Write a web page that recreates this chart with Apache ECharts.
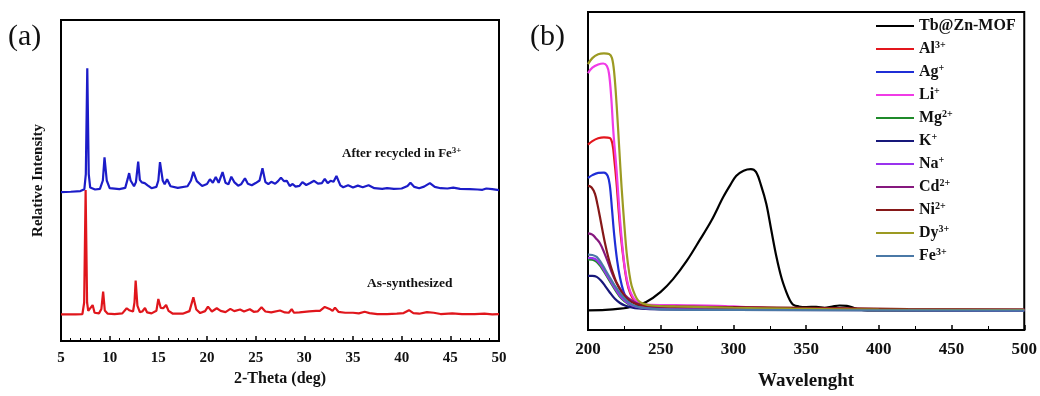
<!DOCTYPE html>
<html>
<head>
<meta charset="utf-8">
<script src="https://cdn.jsdelivr.net/npm/echarts@6/dist/echarts.min.js"></script>
<style>
html,body{margin:0;padding:0;background:#fff;}
#chart{width:1040px;height:396px;}
</style>
</head>
<body>
<div id="chart"></div>
<script>
// ---------- Data (a): XRD patterns, [2-theta, relative intensity (offset)] ----------
const xrdRecycled = [[5,46.4],[6,46.5],[7,46.7],[7.4,47.3],[7.55,52],[7.7,85],[7.85,52],[8.0,47.8],[8.5,47.2],[9.0,47.4],[9.3,50],[9.47,57.2],[9.7,50],[10.0,47.6],[11.0,47.3],[11.6,47.7],[11.85,50.5],[12.0,52.3],[12.15,50],[12.3,50.2],[12.5,48.2],[12.7,49.5],[12.93,55.9],[13.1,50.2],[13.3,49.4],[13.6,49.2],[13.9,48.5],[14.3,47.6],[14.8,48],[15.0,50],[15.17,55.7],[15.45,50],[15.65,48.8],[15.9,50.4],[16.25,48.2],[17.0,47.7],[18.0,48.2],[18.35,50],[18.6,52.7],[18.95,49.8],[19.5,48.3],[20.0,48.9],[20.3,50.4],[20.6,49.3],[20.9,51.1],[21.2,49.3],[21.6,52.6],[21.9,49.3],[22.2,48.8],[22.5,51.2],[22.8,49.5],[23.2,48.4],[23.5,48.8],[23.9,50.7],[24.2,49],[24.6,48.5],[25.0,49.2],[25.4,50],[25.7,53.8],[26.0,49.5],[26.3,48.9],[26.6,49.6],[27.0,49],[27.3,49.8],[27.6,50.9],[27.9,49.8],[28.2,49.9],[28.5,48.3],[28.8,48.9],[29.1,48.1],[29.5,48.3],[29.8,49.5],[30.2,48.6],[30.6,49.2],[31.0,49.9],[31.4,49],[31.8,49.2],[32.1,50.5],[32.4,49.2],[32.7,49.9],[33.0,49.6],[33.3,51.4],[33.7,48.5],[34.0,47.9],[34.5,48.5],[35.0,47.8],[35.5,48.4],[36.0,47.9],[36.6,48.5],[37.2,47.6],[38.0,47.4],[38.5,47.6],[39.2,47.4],[40.0,47.5],[40.6,48.3],[40.9,49.3],[41.3,48],[41.8,47.6],[42.3,48.1],[42.9,49.2],[43.4,48],[44.0,47.6],[44.7,47.5],[45.3,47.8],[46,47.4],[47,47.3],[47.8,47.2],[48.3,47.1],[48.7,47.5],[49.3,47.3],[50,47.0]];

const xrdAsSynth = [[5,8.3],[6.5,8.3],[7.2,8.4],[7.38,12],[7.53,47],[7.68,12],[7.8,9.4],[8.0,9.2],[8.25,11.2],[8.45,8.8],[8.9,8.6],[9.15,10],[9.33,15.4],[9.5,9.5],[9.8,8.5],[10.5,8.4],[11.3,8.6],[11.75,10.2],[12.0,9.6],[12.2,9.8],[12.4,9.2],[12.55,12],[12.67,18.8],[12.85,11],[13.1,9.0],[13.35,9.2],[13.63,10.3],[13.85,8.9],[14.3,8.6],[14.8,9.4],[15.0,13.1],[15.25,10.3],[15.5,10.2],[15.8,11.2],[16.05,9.4],[16.5,8.5],[17.5,8.5],[18.2,9.3],[18.6,13.6],[18.9,9.8],[19.3,8.7],[19.8,9.3],[20.1,10.7],[20.5,9.2],[21.0,10.2],[21.4,9.4],[21.9,9.0],[22.4,10.0],[22.8,9.3],[23.4,9.8],[23.8,9.2],[24.4,9.9],[24.8,9.1],[25.2,9.2],[25.6,10.5],[26.0,9.2],[26.6,8.9],[27.5,9.5],[28.0,8.9],[28.4,8.8],[28.7,9.9],[28.95,8.8],[29.5,8.9],[30.5,9.2],[31.2,9.4],[31.6,9.4],[32.1,10.6],[32.6,10.0],[32.9,9.4],[33.15,10.4],[33.5,9.1],[34.2,8.8],[35.0,8.8],[35.6,8.6],[36.2,9.1],[36.7,8.7],[37.5,8.4],[38.5,8.4],[39.5,8.5],[40.2,8.7],[40.75,9.6],[41.2,8.7],[41.8,8.5],[42.6,9.0],[43.3,8.8],[44.0,8.4],[45.2,8.6],[46.2,8.4],[47.5,8.4],[48.5,8.5],[49.3,8.3],[50,8.4]];

const xrdNames = ['After recycled in Fe3+', 'As-synthesized'];
const xrdTicks = [5, 10, 15, 20, 25, 30, 35, 40, 45, 50];

// ---------- Data (b): absorption spectra, [wavelength, intensity] ----------
const uvNames = ['Tb@Zn-MOF','Al3+','Ag+','Li+','Mg2+','K+','Na+','Cd2+','Ni2+','Dy3+','Fe3+'];
const uvTb = [[200,6.2],[212,6.3],[222,6.7],[231,7.4],[240,8.8],[250,12.0],[258.5,16.0],[268,21.8],[277,28.4],[285,34.5],[293,41.8],[298,45.7],[302,48.5],[307,50.1],[312,50.6],[315.5,49.7],[319,45.5],[322.6,39.7],[326,31.5],[329.5,23.2],[333,16.5],[336.4,11.9],[339,9.2],[341,8.0],[345,7.4],[350,7.2],[357,7.3],[362.7,7.0],[368,7.4],[373,7.7],[378,7.6],[383,6.9],[387,6.4],[392,6.2],[500,6.2]];
const uvAl = [[200,58.3],[203,59.4],[207,60.3],[211,60.6],[215,60.4],[216.8,58.5],[218,54],[219.5,47],[221,38],[222.5,30],[224.5,22],[226.6,15.5],[229,11.5],[232,9.2],[236,8.1],[245,7.6],[280,7.3],[330,6.9],[400,6.5],[500,6.3]];
const uvAg = [[200,47.8],[203,48.7],[207,49.4],[211,49.5],[213.5,48.5],[215,45.5],[216.5,38],[218,30],[220,22],[222,16.5],[224.5,12],[227.5,9.0],[231,7.6],[240,7.0],[300,6.7],[400,6.4],[500,6.3]];
const uvLi = [[200,80.8],[203,82.5],[207,83.5],[210.5,83.8],[213,83.0],[214.5,80.5],[216,73],[217.5,62],[219.7,50],[221.5,38],[223.5,27],[225.5,19],[228,13.5],[231,10.3],[234,8.9],[240,8.0],[260,7.8],[290,7.6],[305,7.3],[330,6.8],[380,6.5],[450,6.3],[500,6.3]];
const uvMg = [[200,22.2],[203,22.1],[206,21.4],[209,19.8],[212,17.6],[215.5,15.0],[219,12.4],[223,9.9],[228,8.1],[233,7.2],[240,6.8],[280,6.6],[350,6.4],[500,6.2]];
const uvK = [[200,17.0],[203,17.0],[206,16.7],[209,15.5],[211.7,13.9],[215,11.8],[218.5,9.8],[222,8.5],[225.4,7.7],[230,7.1],[234.5,6.8],[250,6.5],[300,6.3],[500,6.1]];
const uvNa = [[200,22.7],[203,22.6],[206,22.0],[209,20.3],[212,18.0],[215.5,15.4],[219,12.8],[223,10.2],[228,8.3],[233,7.3],[240,6.8],[270,6.6],[350,6.4],[500,6.2]];
const uvCd = [[200,30.4],[203,30.0],[205.5,28.8],[208.2,27.3],[211,24.5],[213.9,21.1],[217.5,16.8],[220.8,13.9],[225,11.2],[230,9.3],[236,8.0],[250,7.3],[320,6.9],[400,6.5],[500,6.3]];
const uvNi = [[200,45.4],[202.5,44.8],[204.8,42.8],[206.5,39.5],[208.2,35.6],[210,31.2],[211.7,27.3],[214,22.8],[216.3,19.1],[219.5,15],[223.1,11.9],[227.5,9.6],[232.3,8.3],[240,7.6],[280,7.3],[350,7.0],[420,6.6],[500,6.4]];
const uvDy = [[200,83.6],[203,85.5],[207,86.7],[211,87.0],[214.5,86.8],[216.5,85.5],[218,81],[219.7,70.7],[221.5,57],[223.1,44.9],[225,33],[226.6,24.2],[228.5,17.5],[230,13.9],[232.5,10.8],[234.5,9.3],[238,8.3],[243.7,7.7],[260,7.4],[300,7.0],[340,6.7],[400,6.4],[500,6.3]];
const uvFe = [[200,23.7],[203,23.6],[206,23.0],[209,21.2],[211.7,19.1],[215,16.5],[218.5,13.9],[223,11.0],[227.7,8.8],[232,7.6],[236.9,7.0],[250,6.5],[300,6.3],[500,6.1]];
const uvTicks = [200, 250, 300, 350, 400, 450, 500];

// ---------- Styles ----------
const uvData = [uvTb, uvAl, uvAg, uvLi, uvMg, uvK, uvNa, uvCd, uvNi, uvDy, uvFe];
const uvColors = ['#000000','#e3161d','#1f2ed6','#f03be6','#1f8a2a','#17187a','#9a33ee','#86187e','#861818','#9c9a22','#4a78a6'];
const SERIF = "'Liberation Serif','Times New Roman',serif";

function supFmt(name) {
  const m = name.match(/^(.*?)(\d*[+-])$/);
  if (!m) return '{b|' + name + '}';
  return '{b|' + m[1] + '}{s|' + m[2] + '}';
}

const chart = echarts.init(document.getElementById('chart'), null, {renderer: 'canvas'});

const series = [
  {name: xrdNames[0], type: 'line', xAxisIndex: 0, yAxisIndex: 0, data: xrdRecycled, showSymbol: false, symbol: 'none',
   lineStyle: {color: '#1c1cc8', width: 2.2}, color: '#1c1cc8', z: 3},
  {name: xrdNames[1], type: 'line', xAxisIndex: 0, yAxisIndex: 0, data: xrdAsSynth, showSymbol: false, symbol: 'none',
   lineStyle: {color: '#e0161c', width: 2.2}, color: '#e0161c', z: 2}
];
uvNames.forEach((n, i) => {
  series.push({name: n, type: 'line', xAxisIndex: 1, yAxisIndex: 1, data: uvData[i], showSymbol: false, symbol: 'none',
    smooth: 0.35, color: uvColors[i], lineStyle: {color: uvColors[i], width: 2.2}});
});

const axisLabelStyle = (size) => ({fontFamily: SERIF, fontWeight: 'bold', fontSize: size, color: '#111'});

chart.setOption({
  animation: false,
  backgroundColor: '#fff',
  grid: [
    {left: 61, right: 541, top: 20, bottom: 55, show: true, borderColor: '#000', borderWidth: 2, backgroundColor: 'transparent'},
    {left: 588, right: 15, top: 12, bottom: 61, show: true, borderColor: '#000', borderWidth: 2, backgroundColor: 'transparent'}
  ],
  xAxis: [
    {gridIndex: 0, type: 'value', min: 5, max: 50, interval: 5,
     name: '2-Theta (deg)', nameLocation: 'middle', nameGap: 29,
     nameTextStyle: axisLabelStyle(16),
     axisLine: {show: true, lineStyle: {color: '#000', width: 2}},
     axisTick: {show: true, inside: true, length: 5, lineStyle: {color: '#000', width: 1.5}},
     minorTick: {show: true, splitNumber: 5, length: 3, lineStyle: {color: '#000', width: 1}},
     axisLabel: Object.assign({margin: 10}, axisLabelStyle(15)),
     splitLine: {show: false}},
    {gridIndex: 1, type: 'value', min: 200, max: 500, interval: 50,
     name: 'Wavelenght', nameLocation: 'middle', nameGap: 42,
     nameTextStyle: axisLabelStyle(19),
     axisLine: {show: true, lineStyle: {color: '#000', width: 2}},
     axisTick: {show: true, inside: true, length: 5, lineStyle: {color: '#000', width: 1.5}},
     minorTick: {show: true, splitNumber: 2, length: 4, lineStyle: {color: '#000', width: 1}},
     axisLabel: Object.assign({margin: 11}, axisLabelStyle(17)),
     splitLine: {show: false}}
  ],
  yAxis: [
    {gridIndex: 0, type: 'value', min: 0, max: 100,
     name: 'Relative Intensity', nameLocation: 'middle', nameGap: 15, nameRotate: 90,
     nameTextStyle: axisLabelStyle(15),
     axisLine: {show: false}, axisTick: {show: false}, axisLabel: {show: false}, splitLine: {show: false}},
    {gridIndex: 1, type: 'value', min: 0, max: 100,
     axisLine: {show: false}, axisTick: {show: false}, axisLabel: {show: false}, splitLine: {show: false}}
  ],
  legend: {
    data: uvNames,
    orient: 'vertical',
    left: 871, top: 12,
    itemWidth: 38, itemHeight: 12, itemGap: 5,
    icon: 'path://M0,5 L38,5 L38,7 L0,7 Z',
    formatter: supFmt,
    textStyle: {
      fontFamily: SERIF, fontWeight: 'bold', fontSize: 16, color: '#111', lineHeight: 18,
      rich: {
        b: {fontFamily: SERIF, fontWeight: 'bold', fontSize: 16, color: '#111', lineHeight: 18},
        s: {fontFamily: SERIF, fontWeight: 'bold', fontSize: 10, color: '#111', verticalAlign: 'top', lineHeight: 18}
      }
    },
    selectedMode: false
  },
  graphic: [
    {type: 'text', left: 8, top: 22, style: {text: '(a)', font: "30px 'Liberation Serif'", fill: '#111'}},
    {type: 'text', left: 530, top: 22, style: {text: '(b)', font: "30px 'Liberation Serif'", fill: '#111'}},
    {type: 'text', left: 342, top: 146, style: {
      text: '{a|After recycled in Fe}{s|3+}',
      rich: {
        a: {fontFamily: SERIF, fontWeight: 'bold', fontSize: 13, fill: '#111', lineHeight: 16},
        s: {fontFamily: SERIF, fontWeight: 'bold', fontSize: 9, fill: '#111', verticalAlign: 'top', lineHeight: 16}
      }}},
    {type: 'text', left: 367, top: 277, style: {text: 'As-synthesized', font: "bold 13.5px 'Liberation Serif'", fill: '#111'}}
  ],
  series: series
});
</script>
</body>
</html>
